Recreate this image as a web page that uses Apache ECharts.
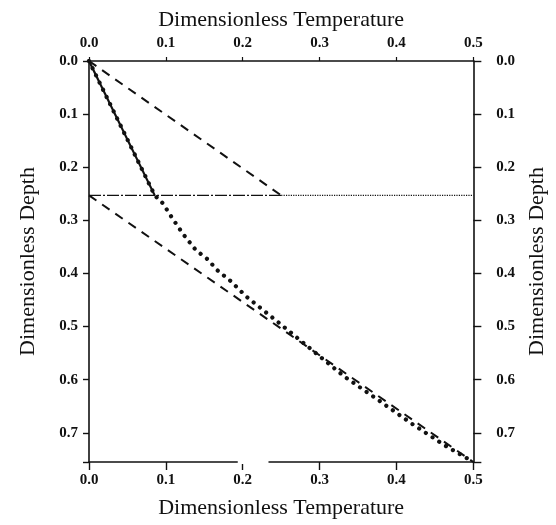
<!DOCTYPE html>
<html>
<head>
<meta charset="utf-8">
<script src="https://cdn.jsdelivr.net/npm/echarts@6/dist/echarts.min.js"></script>
<style>
  html, body { margin: 0; padding: 0; background: #fff; }
  #chart { width: 556px; height: 525px; }
</style>
</head>
<body>
<div id="chart"></div>
<script>
// Axis ranges and tick labels
const tempRange = [0, 0.5];
const depthRange = [0, 0.755];
const tempTickLabels = ['0.0', '0.1', '0.2', '0.3', '0.4', '0.5'];
const depthTickLabels = ['0.0', '0.1', '0.2', '0.3', '0.4', '0.5', '0.6', '0.7'];

// [temperature, depth] pairs
const upperDashed = [[0, 0], [0.25, 0.253]];
const lowerDashed = [[0, 0.253], [0.5, 0.755]];
const interfaceDashDot = [[0, 0.253], [0.25, 0.253]];
const interfaceDotted = [[0.25, 0.253], [0.5, 0.253]];
const upperSolid = [[0, 0], [0.0855, 0.253]];
const profileDots = [
  [0, 0], [0.0855, 0.253], [0.096, 0.268], [0.107, 0.293], [0.122, 0.325],
  [0.139, 0.356], [0.154, 0.373], [0.167, 0.394], [0.184, 0.414], [0.205, 0.444],
  [0.248, 0.494], [0.29, 0.544], [0.333, 0.595], [0.376, 0.638], [0.419, 0.682],
  [0.462, 0.723], [0.5, 0.755]
];

// Break in the lower axis line, in temperature units
const lowerAxisBreak = [0.1935, 0.2335];

const ink = '#111';
const serif = '"Liberation Serif", "Times New Roman", serif';

function tickText(list) {
  return function (v) {
    const i = Math.round(v * 10);
    if (Math.abs(v * 10 - i) > 1e-6) return '';
    return list[i] !== undefined ? list[i] : '';
  };
}

const tickFont = { fontFamily: serif, fontWeight: 'bold', fontSize: 15, color: ink };
const nameFont = { fontFamily: serif, fontSize: 22, color: ink };

function axisLine() {
  return { show: true, onZero: false, lineStyle: { color: ink, width: 1.6 } };
}

function lineSeries(data, style, z) {
  return {
    type: 'line', data: data, symbol: 'none', silent: true,
    lineStyle: Object.assign({ color: ink }, style), z: z || 2
  };
}

const chart = echarts.init(document.getElementById('chart'), null, { renderer: 'canvas' });
chart.setOption({
  animation: false,
  backgroundColor: '#fff',
  grid: { left: 89, top: 61, width: 390, height: 401, containLabel: false },
  xAxis: [
    {
      type: 'value', position: 'bottom', min: tempRange[0], max: tempRange[1], interval: 0.1,
      name: 'Dimensionless Temperature', nameLocation: 'middle', nameGap: 35, nameTextStyle: nameFont,
      axisLine: axisLine(),
      axisTick: { show: true, length: 8, lineStyle: { color: ink, width: 1.4 } },
      axisLabel: Object.assign({ margin: 11, formatter: tickText(tempTickLabels) }, tickFont),
      splitLine: { show: false }
    },
    {
      type: 'value', position: 'top', min: tempRange[0], max: tempRange[1], interval: 0.1,
      name: 'Dimensionless Temperature', nameLocation: 'middle', nameGap: 30, nameTextStyle: nameFont,
      axisLine: axisLine(),
      axisTick: { show: true, length: 4, lineStyle: { color: ink, width: 1.2 } },
      axisLabel: Object.assign({ margin: 10, formatter: tickText(tempTickLabels) }, tickFont),
      splitLine: { show: false }
    }
  ],
  yAxis: [
    {
      type: 'value', position: 'left', inverse: true, min: depthRange[0], max: depthRange[1], interval: 0.1,
      name: 'Dimensionless Depth', nameLocation: 'middle', nameGap: 50, nameRotate: 90, nameTextStyle: nameFont,
      axisLine: axisLine(),
      axisTick: { show: true, length: 6, lineStyle: { color: ink, width: 1.4 } },
      axisLabel: Object.assign({ margin: 11, formatter: tickText(depthTickLabels) }, tickFont),
      splitLine: { show: false }
    },
    {
      type: 'value', position: 'right', inverse: true, min: depthRange[0], max: depthRange[1], interval: 0.1,
      name: 'Dimensionless Depth', nameLocation: 'middle', nameGap: 48, nameRotate: 90, nameTextStyle: nameFont,
      axisLine: axisLine(),
      axisTick: { show: true, length: 8, lineStyle: { color: ink, width: 1.4 } },
      axisLabel: Object.assign({ margin: 23, formatter: tickText(depthTickLabels) }, tickFont),
      splitLine: { show: false }
    }
  ],
  series: [
    lineSeries(upperDashed, { width: 2, type: [9, 7] }),
    lineSeries(lowerDashed, { width: 2, type: [9, 7] }),
    lineSeries(interfaceDashDot, { width: 1.2, type: [12, 2, 2, 2] }),
    lineSeries(interfaceDotted, { width: 1.1, type: [1.2, 1.2] }),
    lineSeries(upperSolid, { width: 2.2 }),
    lineSeries(profileDots, { width: 4.2, type: [0.01, 8], cap: 'round' }, 3)
  ]
});

// White gap over the lower axis line
function drawAxisBreak() {
  const a = chart.convertToPixel({ xAxisIndex: 0, yAxisIndex: 0 }, [lowerAxisBreak[0], depthRange[1]]);
  const b = chart.convertToPixel({ xAxisIndex: 0, yAxisIndex: 0 }, [lowerAxisBreak[1], depthRange[1]]);
  chart.setOption({
    graphic: [{
      type: 'rect', z: 100, silent: true,
      shape: { x: a[0], y: a[1] - 2, width: b[0] - a[0], height: 4 },
      style: { fill: '#fff' }
    }]
  });
}
drawAxisBreak();
</script>
</body>
</html>
